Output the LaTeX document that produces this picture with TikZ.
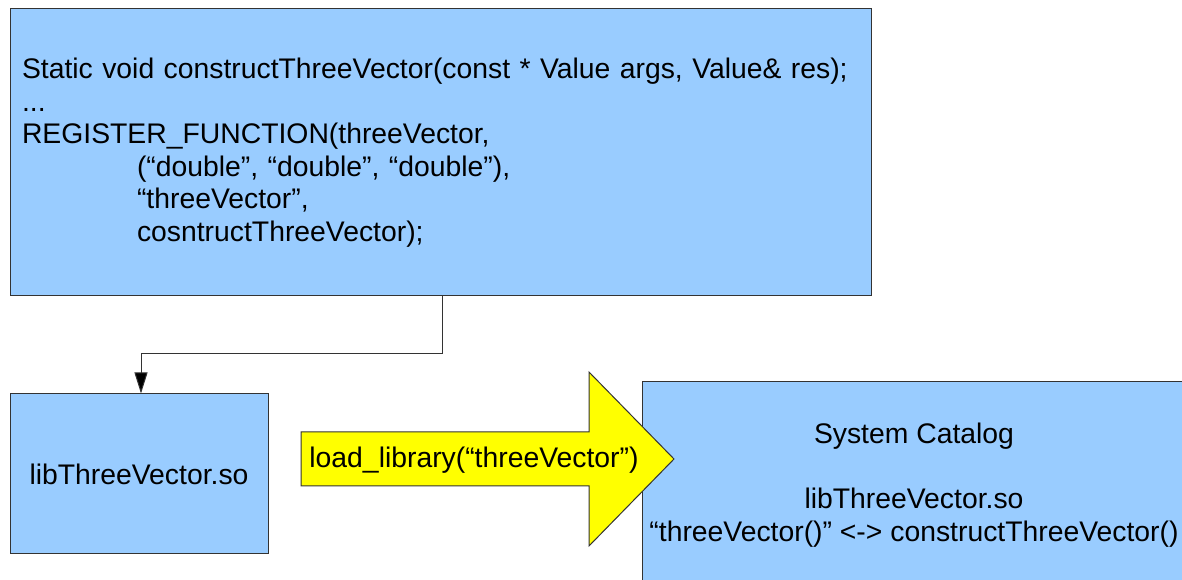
\documentclass[tikz,border=0pt]{standalone}
\usepackage{fontspec}
\setmainfont{Liberation Sans}
\usetikzlibrary{arrows.meta}
\definecolor{boxblue}{HTML}{99CCFF}
\definecolor{edgegray}{HTML}{333333}
\definecolor{arrowyellow}{HTML}{FFFF00}
\begin{document}
\begin{tikzpicture}[x=0.75pt,y=-0.75pt,
  font=\fontsize{21.25pt}{24.4pt}\selectfont,
  box/.style={draw=edgegray, fill=boxblue, line width=0.75pt, inner sep=0pt},
  link/.style={draw=edgegray, line width=0.75pt,
    -{Triangle[length=15.75pt,width=9.75pt,fill=black]}},
  bigarrow/.style={draw=edgegray, fill=arrowyellow, line width=0.75pt}]
\useasboundingbox (0,0) rectangle (1182,580);
\clip (0,0) rectangle (1182,580);

% source file with the registration macro
\node[box, minimum width=645.75pt, minimum height=215.25pt,
      text width=627.75pt, align=left] (src) at (440.5,152.5)
  {Static void constructThreeVector(const * Value args, Value\& res);\\
   ...\\
   REGISTER\_FUNCTION(threeVector,\\
   \hspace*{86.25pt}(“double”, “double”, “double”),\\
   \hspace*{86.25pt}“threeVector”,\\
   \hspace*{86.25pt}cosntructThreeVector);};

% compiled shared library
\node[box, minimum width=193.5pt, minimum height=120pt] (lib) at (139,474)
  {libThreeVector.so};

% catalog entry
\node[box, minimum width=408pt, minimum height=154.5pt, align=center] (cat) at (914,485)
  {System Catalog\\[24.4pt]
   libThreeVector.so\\
   “threeVector()” <-> constructThreeVector()};

% build step
\draw[link] ([xshift=1.5pt]src.south) -- ++(0,57) -| ([xshift=1.5pt]lib.north);

% loading step
\draw[bigarrow] (301,432) -- (589,432) -- (589,372) -- (674,459)
  -- (589,546) -- (589,486) -- (301,486) -- cycle;
\node[inner sep=0pt] (load) at (474,460) {load\_library(“threeVector”)};
\end{tikzpicture}
\end{document}
